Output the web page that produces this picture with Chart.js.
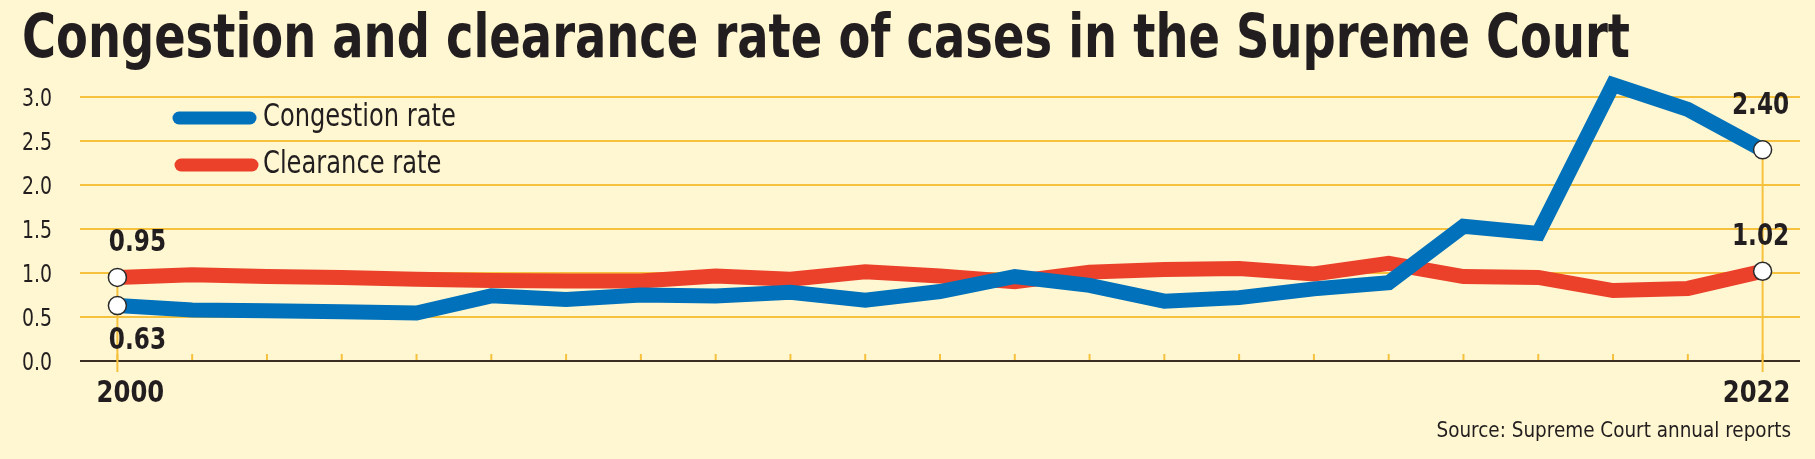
<!DOCTYPE html>
<html><head><meta charset="utf-8">
<script src="https://cdn.jsdelivr.net/npm/chart.js@4.4.1/dist/chart.umd.min.js"></script>
<style>
html,body{margin:0;padding:0;background:#FFF7D1;}
#wrap{position:relative;width:1815px;height:459px;overflow:hidden;background:#FFF7D1;}
#title{position:absolute;left:22px;top:0px;font-family:'DejaVu Sans Condensed','DejaVu Sans',sans-serif;font-weight:bold;font-size:60px;line-height:72px;color:#221E1F;white-space:nowrap;transform-origin:0 0;}
canvas{position:absolute;left:0;top:0;}
</style></head>
<body><div id="wrap"><canvas id="c" width="1815" height="459"></canvas><div id="title">Congestion and clearance rate of cases in the Supreme Court</div></div>
<script>
const years = ['2000','2001','2002','2003','2004','2005','2006','2007','2008','2009','2010','2011','2012','2013','2014','2015','2016','2017','2018','2019','2020','2021','2022'];
const congestion = [0.63,0.58,0.57,0.56,0.545,0.74,0.70,0.75,0.74,0.78,0.69,0.79,0.96,0.86,0.68,0.72,0.82,0.89,1.53,1.45,3.14,2.86,2.40];
const clearance  = [0.95,0.98,0.96,0.95,0.93,0.915,0.91,0.91,0.965,0.93,1.015,0.965,0.90,1.01,1.04,1.05,0.99,1.11,0.96,0.95,0.80,0.825,1.02];
const seriesNames = ['Congestion rate','Clearance rate'];
const yTicks = [0,0.5,1,1.5,2,2.5,3];
const shownYears = ['2000','2022'];
const endLabels = {congestion:['0.63','2.40'], clearance:['0.95','1.02']};
const sourceText = 'Source: Supreme Court annual reports';

const BLUE='#0071BA', RED='#EB412B', GRID='#F6C23E', INK='#221E1F', AXIS='#3A2E22';
const FONT="'DejaVu Sans Condensed','DejaVu Sans',sans-serif";

// fit title width
(function(){
  const t=document.getElementById('title');
  const w=t.getBoundingClientRect().width;
  t.style.transform='scaleX('+(1608/w)+')';
})();

const last = years.length-1;
const ptRadius = years.map((_,i)=> (i===0||i===last)?9:0);

function sqText(ctx, txt, x, y, sx, align){
  ctx.save();
  ctx.translate(x,y); ctx.scale(sx,1);
  ctx.textAlign=align; ctx.fillText(txt,0,0);
  ctx.restore();
}

const decor = {
  id:'decor',
  beforeDatasetsDraw(chart){
    const {ctx, scales:{x,y}} = chart;
    ctx.save();
    ctx.strokeStyle=GRID; ctx.lineWidth=2;
    years.forEach((yr,i)=>{
      const px=x.getPixelForValue(i);
      ctx.beginPath(); ctx.moveTo(px,y.bottom-7); ctx.lineTo(px,y.bottom-1); ctx.stroke();
    });
    [0,last].forEach(i=>{
      const px=x.getPixelForValue(i);
      const top=y.getPixelForValue(Math.max(congestion[i],clearance[i]));
      ctx.beginPath(); ctx.moveTo(px,top); ctx.lineTo(px,y.bottom+11); ctx.stroke();
    });
    ctx.restore();
  },
  afterDraw(chart){
    const {ctx, scales:{x,y}} = chart;
    ctx.save();
    ctx.fillStyle=INK; ctx.textBaseline='middle';
    // y tick labels
    ctx.font='25px '+FONT;
    y.ticks.forEach(t=>{
      sqText(ctx, Number(t.value).toFixed(1), 52, y.getPixelForValue(t.value)+2, 0.84, 'right');
    });
    // end value labels
    ctx.font='bold 30px '+FONT;
    const x0=x.getPixelForValue(0), xN=x.getPixelForValue(last);
    sqText(ctx, endLabels.clearance[0], x0+20, y.getPixelForValue(clearance[0])-34, 0.86, 'center');
    sqText(ctx, endLabels.congestion[0], x0+20, y.getPixelForValue(congestion[0])+36, 0.86, 'center');
    sqText(ctx, endLabels.congestion[1], xN-2, y.getPixelForValue(congestion[last])-44, 0.86, 'center');
    sqText(ctx, endLabels.clearance[1], xN-2, y.getPixelForValue(clearance[last])-34, 0.86, 'center');
    // x labels
    sqText(ctx, shownYears[0], x0+13, y.bottom+33, 0.9, 'center');
    sqText(ctx, shownYears[1], xN-6, y.bottom+33, 0.9, 'center');
    // legend
    const cols=[BLUE,RED];
    seriesNames.forEach((n,k)=>{
      const ly=118+k*47;
      ctx.strokeStyle=cols[k]; ctx.lineWidth=13; ctx.lineCap='round';
      ctx.beginPath(); ctx.moveTo(179+k*2,ly); ctx.lineTo(250+k*2,ly); ctx.stroke();
      ctx.font='32px '+FONT;
      sqText(ctx, n, 263, ly, 0.84, 'left');
    });
    // source
    ctx.font='22px '+FONT;
    sqText(ctx, sourceText, 1791, 431, 0.93, 'right');
    ctx.restore();
  }
};

new Chart(document.getElementById('c'),{
  type:'line',
  data:{labels:years,datasets:[
    {label:seriesNames[0],data:congestion,borderColor:BLUE,borderWidth:15,borderJoinStyle:'miter',tension:0,clip:false,
     pointRadius:ptRadius,pointHoverRadius:ptRadius,pointBackgroundColor:'#FFFFFF',pointBorderColor:'#2A2A2A',pointBorderWidth:1.5},
    {label:seriesNames[1],data:clearance,borderColor:RED,borderWidth:15,borderJoinStyle:'miter',tension:0,clip:false,
     pointRadius:ptRadius,pointHoverRadius:ptRadius,pointBackgroundColor:'#FFFFFF',pointBorderColor:'#2A2A2A',pointBorderWidth:1.5}
  ]},
  options:{
    responsive:false,devicePixelRatio:1,animation:false,
    layout:{padding:{top:97,right:15,left:0,bottom:0}},
    plugins:{legend:{display:false},tooltip:{enabled:false}},
    scales:{
      x:{type:'category',offset:true,grid:{display:false},border:{display:false},ticks:{display:false},
         afterFit:s=>{s.height=98;}},
      y:{min:0,max:3,afterBuildTicks:s=>{s.ticks=yTicks.map(v=>({value:v}));},
         ticks:{display:false},
         grid:{drawTicks:false,lineWidth:2,color:c=>c.tick&&c.tick.value===0?AXIS:GRID},
         border:{display:false},
         afterFit:s=>{s.width=80;}}
    }
  },
  plugins:[decor]
});
</script>
</body></html>
